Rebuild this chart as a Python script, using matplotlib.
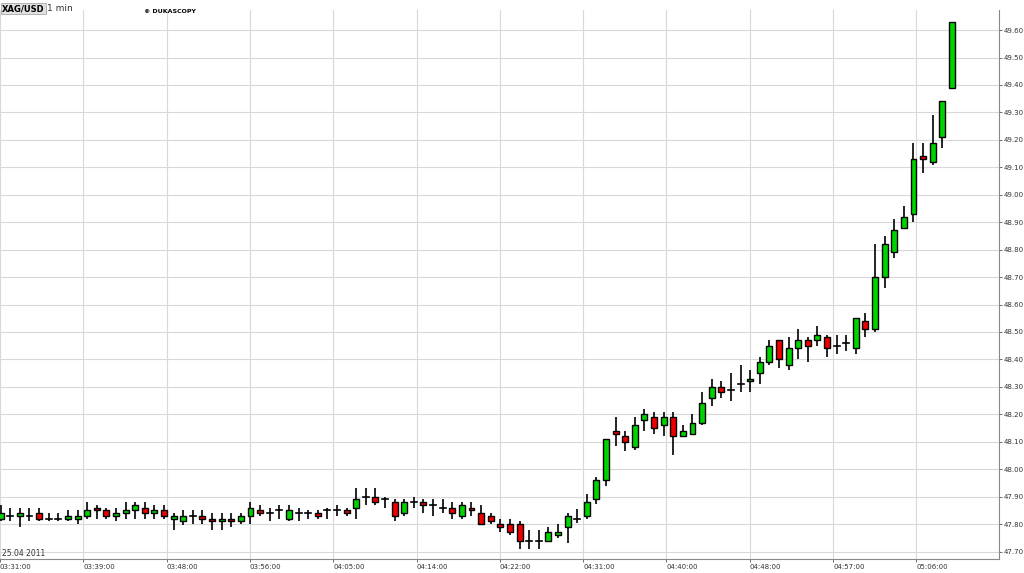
import matplotlib
matplotlib.use("Agg")
import matplotlib.pyplot as plt
from matplotlib.patches import Rectangle

opens = [47.82,47.83,47.83,47.83,47.84,47.82,47.82,47.82,47.82,47.83,
         47.86,47.85,47.83,47.84,47.85,47.86,47.84,47.85,47.82,47.81,
         47.83,47.83,47.82,47.81,47.82,47.81,47.83,47.85,47.84,47.85,
         47.82,47.84,47.84,47.84,47.85,47.85,47.85,47.86,47.90,47.90,
         47.89,47.88,47.84,47.88,47.88,47.87,47.86,47.86,47.83,47.86,
         47.84,47.83,47.80,47.80,47.80,47.74,47.74,47.74,47.76,47.79,
         47.82,47.83,47.89,47.96,48.14,48.12,48.08,48.18,48.19,48.16,
         48.19,48.12,48.13,48.17,48.26,48.30,48.29,48.31,48.32,48.35,
         48.39,48.47,48.38,48.44,48.47,48.47,48.48,48.45,48.46,48.44,
         48.54,48.51,48.70,48.79,48.88,48.93,49.14,49.12,49.21,49.39]
highs = [47.87,47.86,47.86,47.86,47.86,47.84,47.84,47.85,47.85,47.88,
         47.87,47.86,47.86,47.88,47.88,47.88,47.87,47.87,47.84,47.85,
         47.85,47.85,47.84,47.84,47.84,47.84,47.88,47.87,47.86,47.87,
         47.87,47.86,47.85,47.85,47.86,47.87,47.86,47.93,47.93,47.93,
         47.90,47.89,47.89,47.90,47.89,47.89,47.89,47.88,47.88,47.88,
         47.87,47.84,47.82,47.82,47.81,47.78,47.78,47.79,47.80,47.84,
         47.855,47.91,47.97,48.11,48.19,48.14,48.19,48.22,48.21,48.21,
         48.21,48.16,48.20,48.28,48.33,48.32,48.35,48.38,48.36,48.41,
         48.47,48.47,48.48,48.51,48.48,48.52,48.49,48.49,48.49,48.55,
         48.57,48.82,48.85,48.91,48.96,49.19,49.19,49.29,49.34,49.63]
lows = [47.81,47.81,47.79,47.81,47.81,47.81,47.81,47.81,47.80,47.82,
        47.82,47.82,47.81,47.82,47.82,47.82,47.82,47.82,47.78,47.795,
        47.80,47.80,47.78,47.78,47.79,47.80,47.80,47.83,47.81,47.82,
        47.81,47.81,47.82,47.82,47.82,47.83,47.83,47.82,47.87,47.87,
        47.86,47.81,47.83,47.86,47.84,47.83,47.84,47.82,47.82,47.83,
        47.80,47.80,47.77,47.76,47.71,47.71,47.71,47.735,47.75,47.73,
        47.805,47.82,47.875,47.94,48.085,48.065,48.07,48.14,48.13,48.12,
        48.05,48.13,48.14,48.16,48.23,48.26,48.25,48.28,48.28,48.31,
        48.38,48.37,48.36,48.40,48.39,48.45,48.41,48.42,48.43,48.42,
        48.48,48.50,48.66,48.77,48.875,48.90,49.08,49.11,49.17,49.39]
closes = [47.84,47.83,47.84,47.83,47.82,47.82,47.82,47.83,47.83,47.85,
          47.85,47.83,47.84,47.85,47.87,47.84,47.85,47.83,47.83,47.83,
          47.83,47.82,47.81,47.82,47.81,47.83,47.86,47.84,47.84,47.85,
          47.85,47.84,47.84,47.83,47.85,47.85,47.84,47.89,47.90,47.88,
          47.89,47.83,47.88,47.88,47.87,47.87,47.86,47.84,47.87,47.85,
          47.80,47.81,47.79,47.77,47.74,47.74,47.74,47.77,47.77,47.83,
          47.82,47.88,47.96,48.11,48.13,48.10,48.16,48.20,48.15,48.19,
          48.12,48.14,48.17,48.24,48.30,48.28,48.29,48.31,48.33,48.39,
          48.45,48.40,48.44,48.47,48.45,48.49,48.44,48.45,48.46,48.55,
          48.51,48.70,48.82,48.87,48.92,49.13,49.13,49.19,49.34,49.63]
time_labels = ["03:31:00","03:39:00","03:48:00","03:56:00","04:05:00","04:14:00",
               "04:22:00","04:31:00","04:40:00","04:48:00","04:57:00","05:06:00"]
price_ticks = [round(47.70 + 0.1*k, 2) for k in range(20)]

fig = plt.figure(figsize=(10.24, 5.73), dpi=100)
ax = fig.add_axes([0.0, 0.0245, 0.9756, 0.958])
GREEN, RED = "#00d400", "#ee0000"
w = 0.62
for i, (o, h, l, c) in enumerate(zip(opens, highs, lows, closes)):
    ax.plot([i, i], [l, h], color="black", lw=1.2, zorder=2, solid_capstyle="butt")
    bottom, height = min(o, c), abs(c - o)
    if height < 0.002:
        ax.plot([i - w/2, i + w/2], [o, o], color="black", lw=1.2, zorder=3)
    else:
        ax.add_patch(Rectangle((i - w/2, bottom), w, height,
                               facecolor=GREEN if c > o else RED,
                               edgecolor="black", lw=1, zorder=3))

grid_pos = [k*8.67 - 0.07 for k in range(len(time_labels))]
ax.set_xlim(-0.07, 103.9)
ax.set_ylim(47.673, 49.673)
ax.set_xticks(grid_pos)
ax.set_xticklabels(time_labels, fontsize=5, ha="left", color="#333333")
ax.set_yticks(price_ticks)
ax.set_yticklabels([f"{p:.2f}" for p in price_ticks], fontsize=5, color="#333333")
ax.yaxis.tick_right()
ax.tick_params(axis="both", length=2, width=0.6, pad=1.5, colors="#555555", labelcolor="#333333")
ax.grid(True, color="#d8d8d8", lw=0.8, zorder=0)
for s in ["left", "top"]:
    ax.spines[s].set_visible(False)
for s in ["right", "bottom"]:
    ax.spines[s].set_color("#888888")
ax.text(0.002, 0.006, "25.04 2011", transform=ax.transAxes, fontsize=5.5, color="#333333")
fig.text(0.002, 0.993, "XAG/USD", fontsize=6, fontweight="bold", va="top",
         bbox=dict(facecolor="#e0e0e0", edgecolor="#999999", pad=0.8, lw=0.5))
fig.text(0.046, 0.993, "1 min", fontsize=6.5, va="top", color="#333333")
fig.text(0.141, 0.985, "© DUKASCOPY", fontsize=4.5, fontweight="bold", va="top")
fig.savefig("out.png", dpi=100)
